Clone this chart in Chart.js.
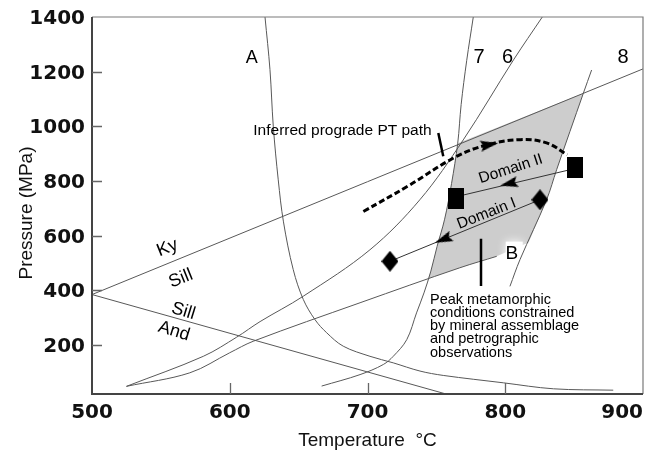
<!DOCTYPE html>
<html lang="en">
<head>
<meta charset="UTF-8">
<title>P-T diagram</title>
<script src="https://cdn.jsdelivr.net/npm/chart.js"></script>
<style>
  html, body { margin: 0; padding: 0; background: #fff; }
  #wrap { width: 655px; height: 453px; }
</style>
</head>
<body>
<div id="wrap"><canvas id="ptChart" width="655" height="453"></canvas></div>
<script>
  // axes (T in °C, P in MPa)
  const tempRange = [500, 900];
  const presRange = [20, 1400];
  const tempTicks = [500, 600, 700, 800, 900];
  const presTicks = [200, 400, 600, 800, 1000, 1200, 1400];

  // Al2SiO5 boundaries
  const kySill = [[500, 384], [900, 1210]];
  const sillAnd = [[500, 384], [757, 20]];

  // reaction curves
  const curveA = [[625.6, 1400], [629.2, 1207], [631.6, 1000], [635.2, 804], [639, 650], [646.1, 475],
    [653.4, 366], [661.9, 292], [670.4, 244], [682.4, 195], [701.8, 158], [718.7, 134], [738.1, 104],
    [755, 88], [798.6, 61], [835, 39], [878.4, 34]];
  const curve7 = [[776.8, 1400], [772, 1240], [768, 1080], [765.5, 938], [761, 790], [756, 660],
    [750.5, 560], [746, 470], [741, 390], [735.6, 317], [728.5, 219], [718.7, 158], [711.5, 128],
    [694.6, 91], [666.7, 49]];
  const curve6 = [[826.9, 1400], [806, 1243], [769.5, 950], [738, 731], [701.8, 548], [653.4, 378],
    [622, 285], [605, 228], [580.8, 158], [525, 48]];
  const curveB = [[525, 48], [571, 97.5], [600, 171], [617, 213], [694.6, 354], [767, 482], [793.8, 524]];
  const curve8 = [[862.7, 1206], [856.7, 1121], [837.3, 841], [830, 731], [810.7, 512], [803.4, 414]];

  // peak field (shaded)
  const peakField = [[765.5, 938], [856.7, 1121], [837.3, 841], [830, 731], [817, 575], [793.8, 524],
    [767, 482], [744, 442], [746, 470], [750.5, 560], [756, 660], [761, 790], [765.5, 938]];

  // prograde path and domains
  const progradePath = [[697, 688], [730, 783], [764, 888], [787, 932], [811, 951], [830, 939], [845, 896]];
  const domainII = [[850.4, 845], [764.3, 742]];
  const domainI = [[825.2, 731], [716.3, 505.7]];
  const squares = [[850.4, 849], [764.3, 735.6]];
  const diamonds = [[825.2, 731], [716.3, 505.7]];
  const arrowPath = [[788.5, 932.7]];
  const arrowII = [[802.6, 790]];
  const arrowI = [[755, 586]];

  // leader lines
  const leaderPath = [[751.4, 975], [755, 890]];
  const leaderPeak = [[782.4, 588], [782.4, 415]];

  const textLabels = [
    { text: 'A', at: [615.9, 1249], font: '18px "Liberation Sans"' },
    { text: '7', at: [780.9, 1252], font: '20px "Liberation Sans"' },
    { text: '6', at: [801.6, 1252], font: '20px "Liberation Sans"' },
    { text: '8', at: [885.5, 1252], font: '20px "Liberation Sans"' },
    { text: 'Inferred prograde PT path', at: [617.1, 984.6], font: '15.5px "Liberation Sans"', align: 'left' },
    { text: 'Domain II', at: [804, 843.5], font: '15.5px "Liberation Sans"', rot: -18 },
    { text: 'Domain I', at: [786.4, 680], font: '15.5px "Liberation Sans"', rot: -21.5 },
    { text: 'Ky', at: [554.8, 554.7], font: '18px "Liberation Sans"', rot: -22 },
    { text: 'Sill', at: [564.5, 442.4], font: '18px "Liberation Sans"', rot: -22 },
    { text: 'Sill', at: [566.3, 322.9], font: '18px "Liberation Sans"', rot: 17 },
    { text: 'And', at: [559.5, 249.7], font: '18px "Liberation Sans"', rot: 17 },
    { text: 'B', at: [804.7, 533.8], font: '19px "Liberation Sans"' }
  ];
  const peakNote = ['Peak metamorphic', 'conditions constrained', 'by mineral assemblage',
    'and petrographic', 'observations'];

  const pts = a => a.map(([x, y]) => ({ x, y }));

  function shapeCanvas(w, h, draw) {
    const c = document.createElement('canvas');
    c.width = w; c.height = h;
    const g = c.getContext('2d');
    g.fillStyle = '#000';
    g.beginPath();
    draw(g, w, h);
    g.closePath();
    g.fill();
    return c;
  }
  const rectIcon = shapeCanvas(16, 21, (g, w, h) => g.rect(0, 0, w, h));
  const diamondIcon = shapeCanvas(17, 21, (g, w, h) => {
    g.moveTo(w / 2, 0); g.lineTo(w, h / 2); g.lineTo(w / 2, h); g.lineTo(0, h / 2);
  });
  const arrowIcon = shapeCanvas(18, 11, (g, w, h) => {
    g.moveTo(w, h / 2); g.lineTo(0, 0); g.lineTo(3, h / 2); g.lineTo(0, h);
  });

  const thin = { borderColor: '#585858', borderWidth: 1, pointRadius: 0, showLine: true, tension: 0.35, order: 5 };
  const marker = (data, icon, rot, order) => ({
    data: pts(data), showLine: false, pointStyle: icon, pointRadius: 6, pointRotation: rot, order: order
  });

  const ptOverlay = {
    id: 'ptOverlay',
    afterDatasetDraw(chart, args) {
      if (chart.data.datasets[args.index].id !== 'peak') return;
      // soft white halo behind the B label
      const { ctx, scales: { x, y } } = chart;
      const bx = x.getPixelForValue(textLabels[11].at[0]);
      const by = y.getPixelForValue(textLabels[11].at[1]);
      ctx.save();
      ctx.fillStyle = '#fff';
      ctx.shadowColor = '#fff';
      ctx.shadowBlur = 10;
      ctx.fillRect(bx - 6, by - 12, 17, 19);
      ctx.restore();
    },
    afterDraw(chart) {
      const { ctx, chartArea: area, scales: { x, y } } = chart;
      ctx.save();

      // frame
      ctx.strokeStyle = '#7a7a7a';
      ctx.lineWidth = 1.2;
      ctx.beginPath();
      ctx.moveTo(area.left, area.top); ctx.lineTo(area.right, area.top); ctx.lineTo(area.right, area.bottom);
      ctx.stroke();
      ctx.strokeStyle = '#444';
      ctx.lineWidth = 2;
      ctx.beginPath();
      ctx.moveTo(area.left, area.top); ctx.lineTo(area.left, area.bottom); ctx.lineTo(area.right, area.bottom);
      ctx.stroke();

      // inward ticks
      ctx.strokeStyle = '#666';
      ctx.lineWidth = 1.3;
      ctx.beginPath();
      presTicks.forEach(v => {
        if (v >= presRange[1]) return;
        const py = Math.round(y.getPixelForValue(v)) + 0.5;
        ctx.moveTo(area.left, py); ctx.lineTo(area.left + 10, py);
      });
      tempTicks.forEach(v => {
        if (v <= tempRange[0] || v >= tempRange[1]) return;
        const px = Math.round(x.getPixelForValue(v)) + 0.5;
        ctx.moveTo(px, area.bottom); ctx.lineTo(px, area.bottom - 11);
      });
      ctx.stroke();

      // tick labels
      ctx.fillStyle = '#111';
      ctx.font = 'bold 20px "DejaVu Sans"';
      ctx.textBaseline = 'middle';
      ctx.textAlign = 'right';
      presTicks.forEach(v => ctx.fillText(String(v), area.left - 7, y.getPixelForValue(v) + 2));
      ctx.textAlign = 'center';
      tempTicks.forEach(v => {
        const s = String(v);
        const w = ctx.measureText(s).width;
        const px = Math.min(x.getPixelForValue(v), area.right - w / 2);
        ctx.fillText(s, px, area.bottom + 19);
      });

      // axis titles
      ctx.font = '19px "Liberation Sans"';
      ctx.fillText('Temperature  °C', (area.left + area.right) / 2, area.bottom + 47);
      ctx.save();
      ctx.translate(27, 213);
      ctx.rotate(-Math.PI / 2);
      ctx.fillText('Pressure (MPa)', 0, 0);
      ctx.restore();

      // curve labels
      ctx.fillStyle = '#000';
      textLabels.forEach(l => {
        ctx.save();
        ctx.translate(x.getPixelForValue(l.at[0]), y.getPixelForValue(l.at[1]));
        ctx.rotate((l.rot || 0) * Math.PI / 180);
        ctx.font = l.font;
        ctx.textAlign = l.align || 'center';
        ctx.fillText(l.text, 0, 0);
        ctx.restore();
      });

      // peak note
      ctx.font = '14.5px "Liberation Sans"';
      ctx.textAlign = 'left';
      const nx = x.getPixelForValue(745.4);
      const ny = y.getPixelForValue(365.6);
      peakNote.forEach((line, i) => ctx.fillText(line, nx, ny + i * 13.3));

      ctx.restore();
    }
  };

  new Chart(document.getElementById('ptChart'), {
    type: 'scatter',
    data: {
      datasets: [
        { id: 'peak', data: pts(peakField), showLine: true, fill: 'shape', backgroundColor: '#cdcdcd',
          borderWidth: 0, borderColor: 'rgba(0,0,0,0)', pointRadius: 0, tension: 0, order: 10 },
        { ...thin, data: pts(kySill), tension: 0 },
        { ...thin, data: pts(sillAnd), tension: 0 },
        { ...thin, data: pts(curveA) },
        { ...thin, data: pts(curve7) },
        { ...thin, data: pts(curve6) },
        { ...thin, data: pts(curveB) },
        { ...thin, data: pts(curve8) },
        { data: pts(domainII), showLine: true, borderColor: '#333', borderWidth: 1, pointRadius: 0, order: 4 },
        { data: pts(domainI), showLine: true, borderColor: '#333', borderWidth: 1, pointRadius: 0, order: 4 },
        { data: pts(progradePath), showLine: true, borderColor: '#000', borderWidth: 3, borderDash: [6, 3],
          pointRadius: 0, tension: 0.4, order: 3 },
        { data: pts(leaderPath), showLine: true, borderColor: '#000', borderWidth: 2.5, pointRadius: 0, order: 3 },
        { data: pts(leaderPeak), showLine: true, borderColor: '#000', borderWidth: 2.5, pointRadius: 0, order: 3 },
        marker(arrowPath, arrowIcon, -10, 1),
        marker(arrowII, arrowIcon, 167, 1),
        marker(arrowI, arrowIcon, 158, 1),
        marker(squares, rectIcon, 0, 0),
        marker(diamonds, diamondIcon, 0, 0)
      ]
    },
    options: {
      responsive: false,
      animation: false,
      events: [],
      layout: { padding: { top: 17, right: 12, left: 0, bottom: 0 } },
      plugins: { legend: { display: false }, tooltip: { enabled: false } },
      scales: {
        x: {
          type: 'linear', min: tempRange[0], max: tempRange[1],
          grid: { display: false }, border: { display: false }, ticks: { display: false },
          afterFit: s => { s.height = 59; }
        },
        y: {
          type: 'linear', min: presRange[0], max: presRange[1],
          grid: { display: false }, border: { display: false }, ticks: { display: false },
          afterFit: s => { s.width = 92; }
        }
      }
    },
    plugins: [ptOverlay]
  });
</script>
</body>
</html>
